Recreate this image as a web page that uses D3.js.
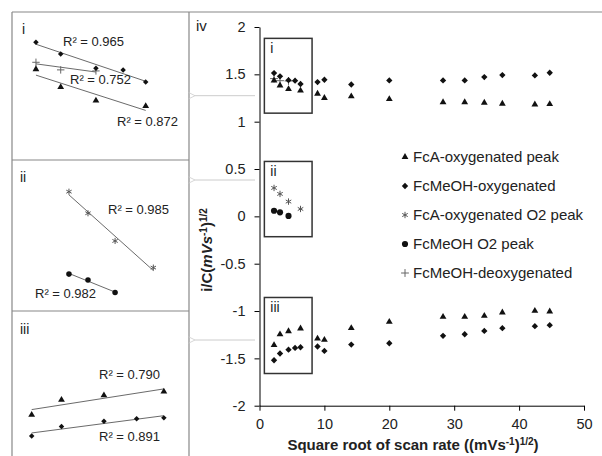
<!DOCTYPE html>
<html>
<head>
<meta charset="utf-8">
<script src="https://cdn.jsdelivr.net/npm/d3@7"></script>
<style>
  body { margin: 0; background: #fff; }
  text { font-family: Arial, "Liberation Sans", sans-serif; fill: #222; }
</style>
</head>
<body>
<div id="chart"></div>
<script>
// square root of scan rate, (mV/s)^1/2
var sqrtScanRate = [2.24, 3.16, 4.47, 5.48, 6.32, 8.94, 10, 14.14, 20, 28.28, 31.62, 34.64, 37.42, 42.43, 44.72];
// FcA-oxygenated peak (oxidation / reduction)
var fcaOxPeakOx = [1.435, 1.383, 1.344, null, 1.328, 1.295, 1.25, 1.267, 1.238, 1.206, 1.206, 1.2, 1.19, 1.182, 1.185];
var fcaOxPeakRed = [-1.36, -1.247, -1.213, null, -1.185, -1.291, -1.305, -1.18, -1.114, -1.061, -1.061, -1.051, -1.016, -0.998, -1.005];
// FcMeOH-oxygenated (oxidation / reduction)
var fcmeohOxOx = [1.513, 1.479, 1.438, 1.433, 1.398, 1.418, 1.443, 1.393, 1.436, 1.436, 1.436, 1.471, 1.492, 1.489, 1.517];
var fcmeohOxRed = [-1.52, -1.449, -1.408, -1.39, -1.383, -1.375, -1.421, -1.354, -1.34, -1.262, -1.245, -1.21, -1.181, -1.16, -1.149];
// O2 peaks and deoxygenated
var fcaO2Peak = [0.3, 0.237, 0.156, null, 0.078];
var fcmeohO2Peak = [0.059, 0.042, 0.005];
var fcmeohDeox = [1.455, 1.433, 1.43];

var legendLabels = ["FcA-oxygenated peak", "FcMeOH-oxygenated", "FcA-oxygenated O2 peak", "FcMeOH O2 peak", "FcMeOH-deoxygenated"];
var xTicks = [0, 10, 20, 30, 40, 50];
var yTicks = [-2, -1.5, -1, -0.5, 0, 0.5, 1, 1.5, 2];
var r2Labels = ["R² = 0.965", "R² = 0.752", "R² = 0.872", "R² = 0.985", "R² = 0.982", "R² = 0.790", "R² = 0.891"];

function pts(ys) {
  var out = [];
  ys.forEach(function (v, i) {
    if (v != null) out.push([sqrtScanRate[i], v]);
  });
  return out;
}

var svg = d3.select("#chart").append("svg")
  .attr("width", 602)
  .attr("height", 456);

// marker styles
var markers = {
  tri: { type: d3.symbolTriangle, fill: "#111", stroke: "none", rot: 0 },
  dia: { type: d3.symbolSquare, fill: "#111", stroke: "none", rot: 45 },
  ast: { type: d3.symbolAsterisk, fill: "none", stroke: "#555", rot: 0 },
  dot: { type: d3.symbolCircle, fill: "#111", stroke: "none", rot: 0 },
  plus: { type: d3.symbolPlus, fill: "none", stroke: "#666", rot: 0 }
};
var mainSize = { tri: 20, dia: 20, ast: 28, dot: 30, plus: 22 };
var panelSize = { tri: 20, dia: 15, ast: 26, dot: 24, plus: 20 };

function drawPoints(g, data, m, size, x, y) {
  var s = markers[m];
  g.selectAll(null)
    .data(data)
    .enter()
    .append("path")
    .attr("d", d3.symbol().type(s.type).size(size[m]))
    .attr("transform", function (d) {
      return "translate(" + x(d[0]) + "," + y(d[1]) + ")rotate(" + s.rot + ")";
    })
    .attr("fill", s.fill)
    .attr("stroke", s.stroke)
    .attr("stroke-width", 1);
}

// least squares trendline
function fit(data) {
  var mx = d3.mean(data, function (d) { return d[0]; });
  var my = d3.mean(data, function (d) { return d[1]; });
  var sxy = 0, sxx = 0;
  data.forEach(function (d) {
    sxy += (d[0] - mx) * (d[1] - my);
    sxx += (d[0] - mx) * (d[0] - mx);
  });
  var b = sxy / sxx;
  var x0 = d3.min(data, function (d) { return d[0]; });
  var x1 = d3.max(data, function (d) { return d[0]; });
  return [[x0, my + b * (x0 - mx)], [x1, my + b * (x1 - mx)]];
}

function drawTrend(g, data, x, y) {
  g.append("path")
    .datum(fit(data))
    .attr("d", d3.line().x(function (d) { return x(d[0]); }).y(function (d) { return y(d[1]); }))
    .attr("fill", "none")
    .attr("stroke", "#444")
    .attr("stroke-width", 0.8);
}

// frame lines
var frame = svg.append("g").attr("stroke", "#888").attr("stroke-width", 1.2);
frame.append("line").attr("x1", 12).attr("x2", 602).attr("y1", 12).attr("y2", 12);
frame.append("line").attr("x1", 12).attr("x2", 12).attr("y1", 12).attr("y2", 456);
frame.append("line").attr("x1", 189).attr("x2", 189).attr("y1", 12).attr("y2", 456);
frame.append("line").attr("x1", 12).attr("x2", 189).attr("y1", 160).attr("y2", 160);
frame.append("line").attr("x1", 12).attr("x2", 189).attr("y1", 311).attr("y2", 311);

// ---------- main chart (iv)
var x = d3.scaleLinear().domain([0, 50]).range([259.5, 584]);
var y = d3.scaleLinear().domain([-2, 2]).range([405.7, 27]);

svg.append("g")
  .attr("transform", "translate(0,405.7)")
  .call(d3.axisBottom(x).tickValues(xTicks).tickSize(5).tickPadding(8).tickSizeOuter(0))
  .call(function (g) {
    g.selectAll("text").style("font-size", "14.5px").attr("fill", "#222");
  });
svg.append("g")
  .attr("transform", "translate(259.5,0)")
  .call(d3.axisLeft(y).tickValues(yTicks).tickSize(5).tickPadding(9).tickSizeOuter(0)
    .tickFormat(function (d) { return String(d); }))
  .call(function (g) {
    g.selectAll("text").style("font-size", "14.5px").attr("fill", "#222");
  });

svg.append("text").attr("x", 196).attr("y", 31).style("font-size", "15px").text("iv");

// zoom boxes
var boxes = [
  { name: "i", y0: 1.09, y1: 1.88 },
  { name: "ii", y0: -0.215, y1: 0.58 },
  { name: "iii", y0: -1.66, y1: -0.857 }
];
boxes.forEach(function (b) {
  svg.append("rect")
    .attr("x", x(0.75))
    .attr("y", y(b.y1))
    .attr("width", x(8.1) - x(0.75))
    .attr("height", y(b.y0) - y(b.y1))
    .attr("fill", "none")
    .attr("stroke", "#333")
    .attr("stroke-width", 1.5);
  svg.append("text")
    .attr("x", x(0.75) + 6)
    .attr("y", y(b.y1) + 15)
    .style("font-size", "14px")
    .text(b.name);
});

// arrows pointing to the insets
svg.append("defs").append("marker")
  .attr("id", "arr")
  .attr("viewBox", "0 0 10 10")
  .attr("refX", 1).attr("refY", 5)
  .attr("markerWidth", 8).attr("markerHeight", 8)
  .attr("orient", "auto-start-reverse")
  .append("path")
  .attr("d", "M9,1L1,5L9,9")
  .attr("fill", "none")
  .attr("stroke", "#ccc")
  .attr("stroke-width", 1);
[95.7, 180, 340].forEach(function (ay) {
  svg.append("line")
    .attr("x1", 195).attr("x2", 255)
    .attr("y1", ay).attr("y2", ay)
    .attr("stroke", "#ccc")
    .attr("stroke-width", 1)
    .attr("marker-start", "url(#arr)");
});

var main = svg.append("g");
drawPoints(main, pts(fcmeohDeox), "plus", mainSize, x, y);
drawPoints(main, pts(fcaOxPeakOx), "tri", mainSize, x, y);
drawPoints(main, pts(fcaOxPeakRed), "tri", mainSize, x, y);
drawPoints(main, pts(fcmeohOxOx), "dia", mainSize, x, y);
drawPoints(main, pts(fcmeohOxRed), "dia", mainSize, x, y);
drawPoints(main, pts(fcaO2Peak), "ast", mainSize, x, y);
drawPoints(main, pts(fcmeohO2Peak), "dot", mainSize, x, y);

// legend
var legendKeys = ["tri", "dia", "ast", "dot", "plus"];
legendLabels.forEach(function (lab, i) {
  var ly = 157 + i * 29;
  var s = markers[legendKeys[i]];
  svg.append("path")
    .attr("d", d3.symbol().type(s.type).size(mainSize[legendKeys[i]]))
    .attr("transform", "translate(405," + ly + ")rotate(" + s.rot + ")")
    .attr("fill", s.fill)
    .attr("stroke", s.stroke);
  svg.append("text")
    .attr("x", 413)
    .attr("y", ly)
    .attr("dy", "0.35em")
    .style("font-size", "15px")
    .text(lab);
});

// axis titles
var xt = svg.append("text")
  .attr("x", 413)
  .attr("y", 450)
  .attr("text-anchor", "middle")
  .style("font-size", "15px")
  .style("font-weight", "bold");
xt.append("tspan").text("Square root of scan rate ((mVs");
xt.append("tspan").attr("dy", -5).style("font-size", "10px").text("-1");
xt.append("tspan").attr("dy", 5).text(")");
xt.append("tspan").attr("dy", -5).style("font-size", "10px").text("1/2");
xt.append("tspan").attr("dy", 5).text(")");

var yt = svg.append("text")
  .attr("transform", "translate(212,250)rotate(-90)")
  .attr("text-anchor", "middle")
  .style("font-size", "15px")
  .style("font-weight", "bold");
yt.append("tspan").text("i/C(");
yt.append("tspan").style("font-style", "italic").text("mVs");
yt.append("tspan").attr("dy", -5).style("font-size", "10px").text("-1");
yt.append("tspan").attr("dy", 5).text(")");
yt.append("tspan").attr("dy", -5).style("font-size", "10px").text("1/2");

// ---------- inset panels
function panelLabel(txt, px, py) {
  svg.append("text").attr("x", px).attr("y", py).style("font-size", "14px").text(txt);
}
function r2(txt, px, py) {
  svg.append("text").attr("x", px).attr("y", py).style("font-size", "13px").text(txt);
}

// panel i
var xi = d3.scaleLinear().domain([2, 7]).range([29.5, 164]);
var yi = d3.scaleLinear().domain([1.3, 1.55]).range([115.8, 29.5]);
var pi = svg.append("g");
var iDia = pts(fcmeohOxOx).slice(0, 5);
var iTri = pts(fcaOxPeakOx).slice(0, 4);
var iPlus = pts(fcmeohDeox);
drawTrend(pi, iDia, xi, yi);
drawTrend(pi, iPlus, xi, yi);
drawTrend(pi, iTri, xi, yi);
drawPoints(pi, iPlus, "plus", panelSize, xi, yi);
drawPoints(pi, iDia, "dia", panelSize, xi, yi);
drawPoints(pi, iTri, "tri", panelSize, xi, yi);
panelLabel("i", 22, 34);
r2(r2Labels[0], 63, 46);
r2(r2Labels[1], 70, 84);
r2(r2Labels[2], 117, 126);

// panel ii
var xii = d3.scaleLinear().domain([2, 7]).range([64, 167.4]);
var yii = d3.scaleLinear().domain([0, 0.35]).range([294.3, 174.6]);
var pii = svg.append("g");
var iiAst = pts(fcaO2Peak);
var iiDot = pts(fcmeohO2Peak);
drawTrend(pii, iiAst, xii, yii);
drawTrend(pii, iiDot, xii, yii);
drawPoints(pii, iiAst, "ast", panelSize, xii, yii);
drawPoints(pii, iiDot, "dot", panelSize, xii, yii);
panelLabel("ii", 20, 182);
r2(r2Labels[3], 108, 214);
r2(r2Labels[4], 35, 298);

// panel iii
var xiii = d3.scaleLinear().domain([2, 7]).range([23.9, 185.9]);
var yiii = d3.scaleLinear().domain([-1.6, -1.1]).range([446.6, 380.4]);
var piii = svg.append("g");
var iiiTri = pts(fcaOxPeakRed).slice(0, 4);
var iiiDia = pts(fcmeohOxRed).slice(0, 5);
drawTrend(piii, iiiTri, xiii, yiii);
drawTrend(piii, iiiDia, xiii, yiii);
drawPoints(piii, iiiTri, "tri", panelSize, xiii, yiii);
drawPoints(piii, iiiDia, "dia", panelSize, xiii, yiii);
panelLabel("iii", 20, 334);
r2(r2Labels[5], 99, 379);
r2(r2Labels[6], 99, 441);
</script>
</body>
</html>
